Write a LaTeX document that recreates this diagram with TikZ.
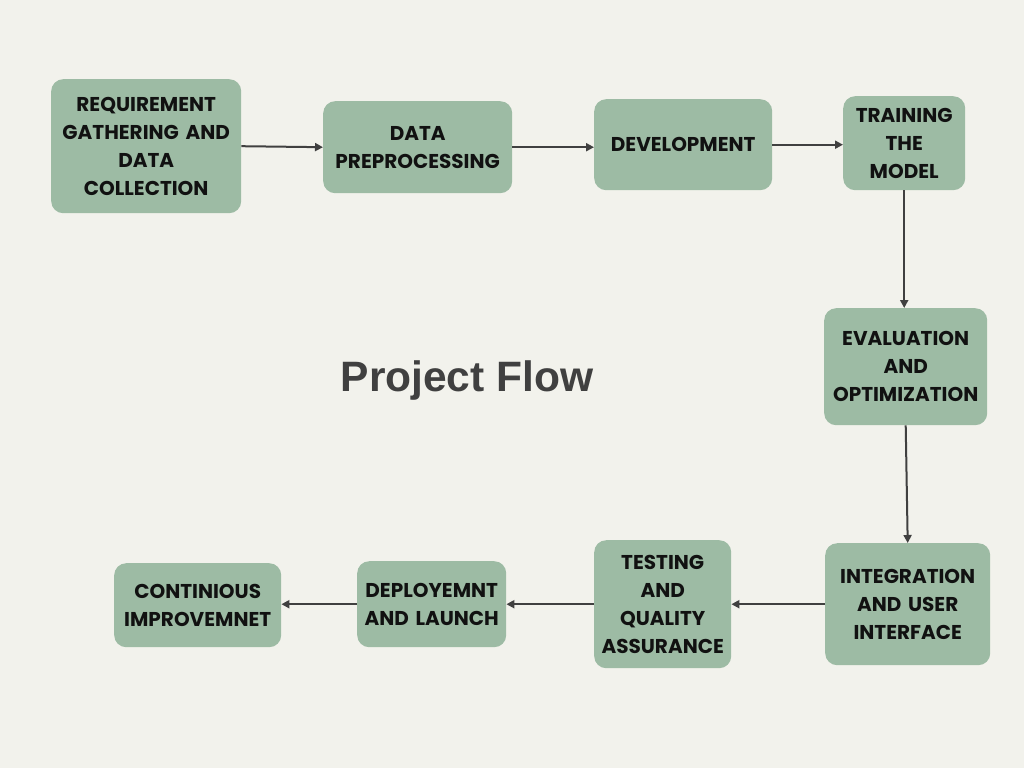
\documentclass[tikz,border=0pt]{standalone}
\usepackage{fontspec}
\setmainfont{Poppins}[BoldFont={* Bold}]
\newfontfamily\titlefont{Liberation Sans}
\usetikzlibrary{arrows.meta}
\definecolor{bg}{HTML}{F2F2EC}
\definecolor{boxfill}{HTML}{9DBBA4}
\definecolor{arrowc}{HTML}{404040}
\definecolor{txt}{HTML}{111111}
\definecolor{titlec}{HTML}{404040}
\tikzset{
  stepbox/.style={draw=none, fill=boxfill, rounded corners=12pt, anchor=north west,
    align=center, text=txt, inner sep=0pt,
    font=\fontsize{20}{28}\selectfont\bfseries},
  flow/.style={draw=arrowc, line width=2pt, -{Triangle[length=8pt,width=8pt]}}
}
\newcommand{\mybox}[6]{% name, x1, y1, x2, y2, text
  \node[stepbox, minimum width={#4-#2}, minimum height={#5-#3}, text width={#4-#2}] (#1) at (#2,#3) {#6};
}
\begin{document}
\begin{tikzpicture}[x=1pt,y=-1pt]
\fill[bg] (0,0) rectangle (1024,768);
\useasboundingbox (0,0) rectangle (1024,768);
\mybox{req}{51}{79}{241}{213}{REQUIREMENT\\GATHERING AND\\DATA\\COLLECTION}
\mybox{pre}{323}{101}{512}{193}{DATA\\PREPROCESSING}
\mybox{dev}{594}{99}{772}{190}{DEVELOPMENT}
\mybox{train}{843}{96}{965}{190}{TRAINING\\THE\\MODEL}
\mybox{eval}{824}{308}{987}{425}{EVALUATION\\AND\\OPTIMIZATION}
\mybox{integ}{825}{543}{990}{665}{INTEGRATION\\AND USER\\INTERFACE}
\mybox{test}{594}{540}{731}{668}{TESTING\\AND\\QUALITY\\ASSURANCE}
\mybox{deploy}{357}{561}{506}{647}{DEPLOYEMNT\\AND LAUNCH}
\mybox{cont}{114}{563}{281}{647}{CONTINIOUS\\IMPROVEMNET}
\node[font=\titlefont\fontsize{42.5}{42.5}\selectfont\bfseries, text=titlec, anchor=base, inner sep=0pt] (title) at (467,391) {Project Flow};
\draw[flow] (req.east) -- (pre.west);
\draw[flow] (pre.east) -- (dev.west |- pre.east);
\draw[flow] (dev.east) -- (train.west |- dev.east);
\draw[flow] (train.south) -- (eval.north -| train.south);
\draw[flow] (eval.south) -- (integ.north);
\draw[flow] (integ.west) -- (test.east |- integ.west);
\draw[flow] (test.west |- integ.west) -- (deploy.east |- integ.west);
\draw[flow] (deploy.west |- integ.west) -- (cont.east |- integ.west);
\end{tikzpicture}
\end{document}
